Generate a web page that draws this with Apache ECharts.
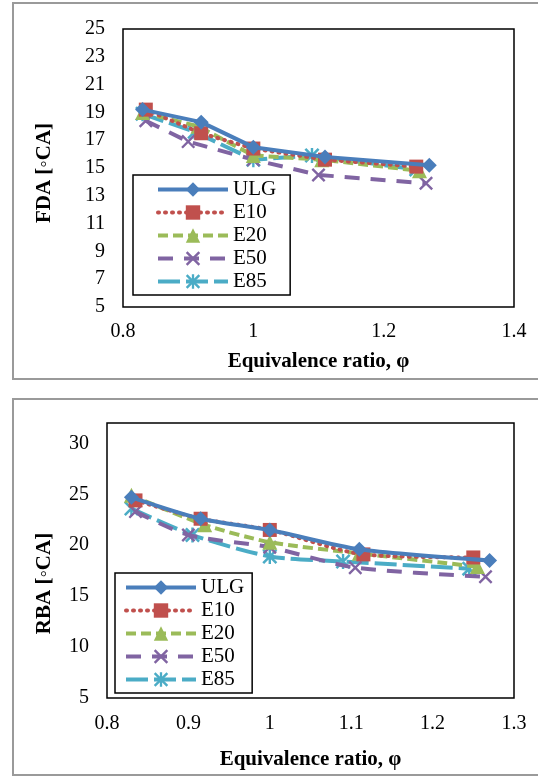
<!DOCTYPE html>
<html>
<head>
<meta charset="utf-8">
<script src="https://cdn.jsdelivr.net/npm/echarts@6/dist/echarts.min.js"></script>
<style>
  html, body { margin: 0; padding: 0; background: #fff; }
  #chart { width: 538px; height: 776px; }
</style>
</head>
<body>
<div id="chart"></div>
<script>
// fuel names (legend)
const fuels = ['ULG', 'E10', 'E20', 'E50', 'E85'];

// top chart: FDA vs equivalence ratio
const fdaUlgPhi = [0.83, 0.92, 1.0, 1.11, 1.27];
const fdaUlg    = [19.2, 18.3, 16.5, 15.8, 15.2];
const fdaE10Phi = [0.835, 0.92, 1.0, 1.11, 1.25];
const fdaE10    = [19.2, 17.5, 16.4, 15.6, 15.1];
const fdaE20Phi = [0.83, 0.915, 1.0, 1.105, 1.255];
const fdaE20    = [19.0, 18.0, 15.9, 15.6, 14.8];
const fdaE50Phi = [0.835, 0.90, 1.0, 1.10, 1.265];
const fdaE50    = [18.4, 16.9, 15.6, 14.5, 13.9];
const fdaE85Phi = [0.83, 0.91, 1.0, 1.09, 1.25];
const fdaE85    = [18.9, 17.6, 15.6, 15.9, 14.9];

// bottom chart: RBA vs equivalence ratio
const rbaUlgPhi = [0.83, 0.915, 1.0, 1.11, 1.27];
const rbaUlg    = [24.7, 22.6, 21.5, 19.6, 18.5];
const rbaE10Phi = [0.835, 0.915, 1.0, 1.115, 1.25];
const rbaE10    = [24.4, 22.6, 21.5, 19.1, 18.8];
const rbaE20Phi = [0.83, 0.92, 1.0, 1.11, 1.255];
const rbaE20    = [24.9, 22.0, 20.3, 19.2, 17.9];
const rbaE50Phi = [0.835, 0.90, 1.0, 1.105, 1.265];
const rbaE50    = [23.3, 21.0, 19.8, 17.8, 16.9];
const rbaE85Phi = [0.83, 0.905, 1.0, 1.09, 1.245];
const rbaE85    = [23.6, 21.0, 18.9, 18.4, 17.7];

// axis ticks
const fdaTicks = [5, 7, 9, 11, 13, 15, 17, 19, 21, 23, 25];

const serif = 'Liberation Serif';
const colors = ['#4A7EBB', '#C0504D', '#9BBB59', '#8064A2', '#4BACC6'];

// x and asterisk marks
const crossPath = 'path://M0,1.2 L1.2,0 L10,8.8 L8.8,10 Z M8.8,0 L10,1.2 L1.2,10 L0,8.8 Z';
const starPath = 'path://M4.2,0 L5.8,0 L5.8,10 L4.2,10 Z M0,1.2 L1.2,0 L10,8.8 L8.8,10 Z M8.8,0 L10,1.2 L1.2,10 L0,8.8 Z';
const symbols = ['diamond', 'rect', 'triangle', crossPath, starPath];
const symbolSizes = [15, 14, 15, 14, 15];
const dashes = ['solid', [1, 6], [10, 5], [15, 11], [22, 6]];

function zip(xs, ys) {
  return xs.map((x, i) => [x, ys[i]]);
}

function makeSeries(name, idx, grid, xs, ys, smooth) {
  return {
    name: name,
    type: 'line',
    xAxisIndex: grid,
    yAxisIndex: grid,
    data: zip(xs, ys),
    smooth: smooth,
    symbol: symbols[idx],
    symbolSize: symbolSizes[idx],
    showAllSymbol: true,
    color: colors[idx],
    itemStyle: { color: colors[idx] },
    lineStyle: { color: colors[idx], width: 4, type: dashes[idx], cap: idx === 1 ? 'round' : 'butt' },
    z: 10 - idx
  };
}

const topData = [[fdaUlgPhi, fdaUlg], [fdaE10Phi, fdaE10], [fdaE20Phi, fdaE20], [fdaE50Phi, fdaE50], [fdaE85Phi, fdaE85]];
const botData = [[rbaUlgPhi, rbaUlg], [rbaE10Phi, rbaE10], [rbaE20Phi, rbaE20], [rbaE50Phi, rbaE50], [rbaE85Phi, rbaE85]];

const series = [];
fuels.forEach((f, i) => series.push(makeSeries(f, i, 0, topData[i][0], topData[i][1], false)));
fuels.forEach((f, i) => series.push(makeSeries(f, i, 1, botData[i][0], botData[i][1], 0.25)));

const labelStyle = { fontFamily: serif, fontSize: 20, color: '#000' };
const nameStyle = { fontFamily: serif, fontSize: 21, fontWeight: 'bold', color: '#000' };

function legendAt(left, top, padding) {
  return {
    data: fuels,
    orient: 'vertical',
    left: left,
    top: top,
    itemWidth: 70,
    itemHeight: 18,
    itemGap: 2,
    padding: padding,
    selectedMode: false,
    backgroundColor: '#fff',
    borderColor: '#000',
    borderWidth: 1.5,
    borderRadius: 0,
    lineStyle: { width: 4 },
    textStyle: { fontFamily: serif, fontSize: 21, color: '#000' }
  };
}

const option = {
  animation: false,
  backgroundColor: '#fff',
  grid: [
    { left: 123, top: 29, width: 391, height: 278, show: true, borderColor: '#000', borderWidth: 1.5, backgroundColor: 'transparent' },
    { left: 107, top: 423, width: 407, height: 275, show: true, borderColor: '#000', borderWidth: 1.5, backgroundColor: 'transparent' }
  ],
  legend: [legendAt(133, 175, [4, 14, 3, 23]), legendAt(115, 573, [4, 8, 3, 9])],
  xAxis: [
    {
      type: 'value', gridIndex: 0, min: 0.8, max: 1.4, interval: 0.2,
      name: 'Equivalence ratio, φ', nameLocation: 'middle', nameGap: 44, nameTextStyle: nameStyle,
      axisLine: { show: false }, axisTick: { show: false }, splitLine: { show: false },
      axisLabel: Object.assign({ margin: 15 }, labelStyle)
    },
    {
      type: 'value', gridIndex: 1, min: 0.8, max: 1.3, interval: 0.1,
      name: 'Equivalence ratio, φ', nameLocation: 'middle', nameGap: 51, nameTextStyle: nameStyle,
      axisLine: { show: false }, axisTick: { show: false }, splitLine: { show: false },
      axisLabel: Object.assign({ margin: 16 }, labelStyle)
    }
  ],
  yAxis: [
    {
      type: 'value', gridIndex: 0, min: 5, max: 25, interval: 1,
      name: 'FDA [◦CA]', nameLocation: 'middle', nameGap: 68, nameTextStyle: Object.assign({ padding: [0, 10, 0, 0] }, nameStyle),
      axisLine: { show: false }, axisTick: { show: false }, splitLine: { show: false },
      axisLabel: Object.assign({
        margin: 18,
        formatter: v => (fdaTicks.indexOf(v) >= 0 ? String(v) : '')
      }, labelStyle)
    },
    {
      type: 'value', gridIndex: 1, min: 5, max: 32, interval: 5,
      name: 'RBA [◦CA]', nameLocation: 'middle', nameGap: 52, nameTextStyle: Object.assign({ padding: [0, 46, 0, 0] }, nameStyle),
      axisLine: { show: false }, axisTick: { show: false }, splitLine: { show: false },
      axisLabel: Object.assign({ margin: 18, showMaxLabel: false }, labelStyle)
    }
  ],
  graphic: [
    { type: 'rect', shape: { x: 13, y: 3, width: 535, height: 376 }, style: { fill: 'none', stroke: '#9a9a9a', lineWidth: 2 }, silent: true, z: -1 },
    { type: 'rect', shape: { x: 13, y: 399, width: 535, height: 376 }, style: { fill: 'none', stroke: '#9a9a9a', lineWidth: 2 }, silent: true, z: -1 }
  ],
  series: series
};

const chart = echarts.init(document.getElementById('chart'));
chart.setOption(option);
</script>
</body>
</html>
